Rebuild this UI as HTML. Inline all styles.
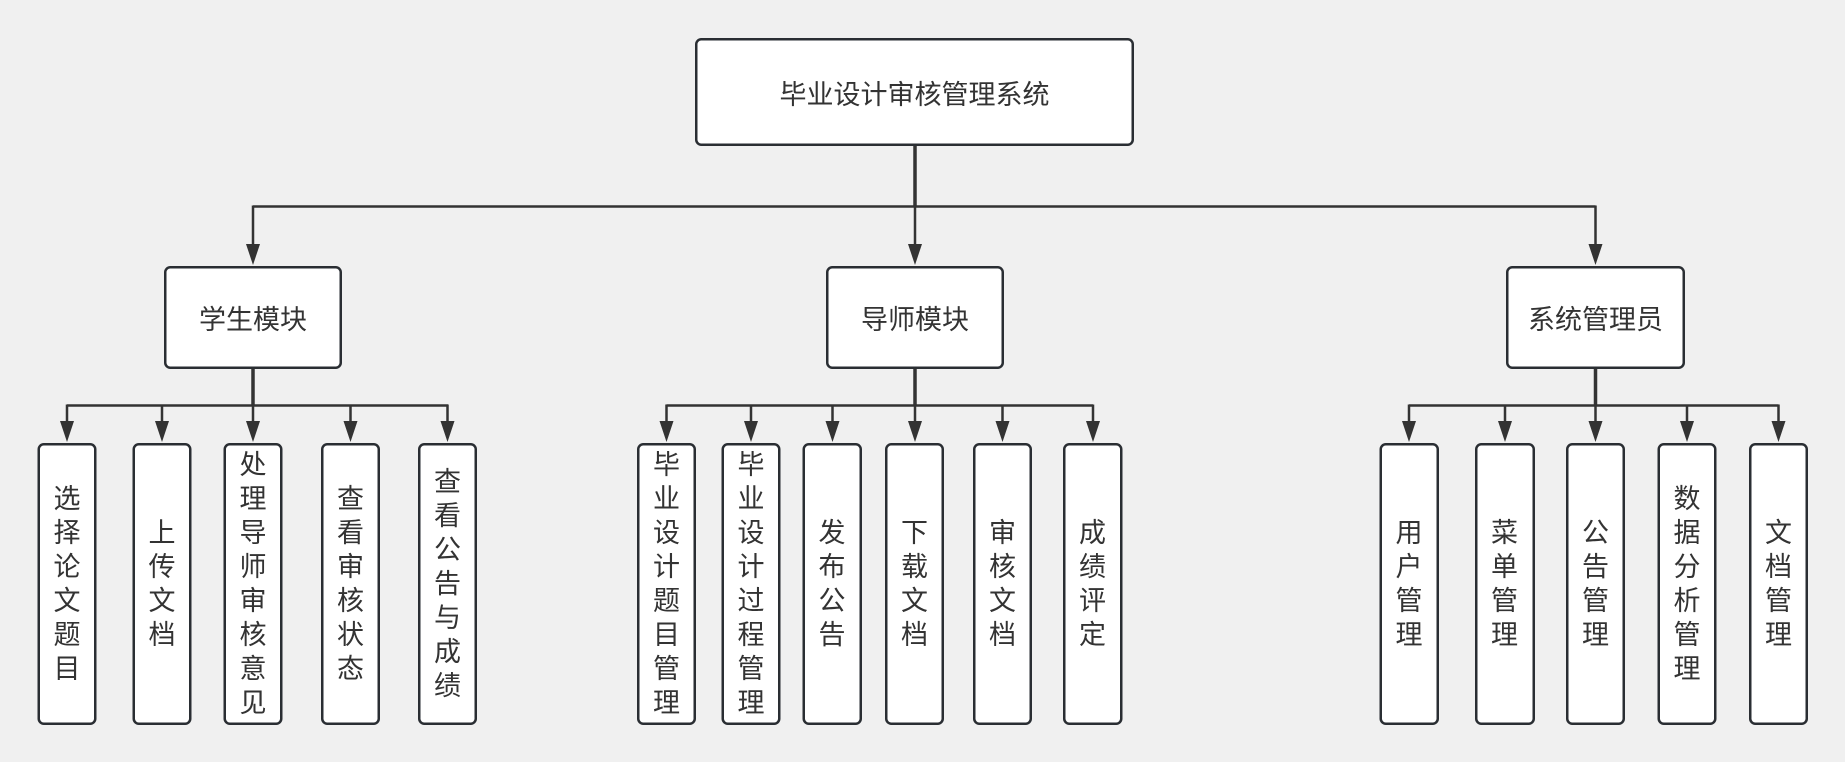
<!DOCTYPE html>
<html><head><meta charset="utf-8">
<style>
html,body{margin:0;padding:0;background:#f0f0f0;}
#c{position:relative;width:1845px;height:762px;overflow:hidden;background:#f0f0f0;}
svg{position:absolute;left:0;top:0;}
.t{position:absolute;display:flex;align-items:center;justify-content:center;text-align:center;color:#333;font-family:"Liberation Sans","Noto Sans CJK SC",sans-serif;font-size:27px;}
.lf{top:443px;height:282px;width:59px;line-height:34px;}
</style></head><body><div id="c">
<svg width="1845" height="762" viewBox="0 0 1845 762">
<g stroke="#333" fill="none" stroke-width="2.5">
<!-- top -->
<line x1="915" y1="146" x2="915" y2="207" stroke-width="3.5"/>
<line x1="915" y1="206" x2="915" y2="245"/>
<line x1="253" y1="206.5" x2="1595.5" y2="206.5"/>
<line x1="253" y1="205.5" x2="253" y2="245"/>
<line x1="1595.5" y1="205.5" x2="1595.5" y2="245"/>
<!-- student -->
<line x1="253" y1="369" x2="253" y2="406" stroke-width="3.5"/>
<line x1="67" y1="405.5" x2="448" y2="405.5"/>
<line x1="67" y1="404.5" x2="67" y2="422"/>
<line x1="162" y1="404.5" x2="162" y2="422"/>
<line x1="253" y1="404.5" x2="253" y2="422"/>
<line x1="350.5" y1="404.5" x2="350.5" y2="422"/>
<line x1="447.5" y1="404.5" x2="447.5" y2="422"/>
<!-- teacher -->
<line x1="915" y1="369" x2="915" y2="406" stroke-width="3.5"/>
<line x1="666.5" y1="405.5" x2="1093" y2="405.5"/>
<line x1="666.5" y1="404.5" x2="666.5" y2="422"/>
<line x1="751" y1="404.5" x2="751" y2="422"/>
<line x1="832.5" y1="404.5" x2="832.5" y2="422"/>
<line x1="915" y1="404.5" x2="915" y2="422"/>
<line x1="1002.5" y1="404.5" x2="1002.5" y2="422"/>
<line x1="1093" y1="404.5" x2="1093" y2="422"/>
<!-- admin -->
<line x1="1595.5" y1="369" x2="1595.5" y2="406" stroke-width="3.5"/>
<line x1="1409" y1="405.5" x2="1778.5" y2="405.5"/>
<line x1="1409" y1="404.5" x2="1409" y2="422"/>
<line x1="1505" y1="404.5" x2="1505" y2="422"/>
<line x1="1595.5" y1="404.5" x2="1595.5" y2="422"/>
<line x1="1687" y1="404.5" x2="1687" y2="422"/>
<line x1="1778.5" y1="404.5" x2="1778.5" y2="422"/>
</g>
<g fill="#333">
<polygon points="246,244 260,244 253,265"/>
<polygon points="908,244 922,244 915,265"/>
<polygon points="1588.5,244 1602.5,244 1595.5,265"/>
<polygon points="60,421 74,421 67,442"/>
<polygon points="155,421 169,421 162,442"/>
<polygon points="246,421 260,421 253,442"/>
<polygon points="343.5,421 357.5,421 350.5,442"/>
<polygon points="440.5,421 454.5,421 447.5,442"/>
<polygon points="659.5,421 673.5,421 666.5,442"/>
<polygon points="744,421 758,421 751,442"/>
<polygon points="825.5,421 839.5,421 832.5,442"/>
<polygon points="908,421 922,421 915,442"/>
<polygon points="995.5,421 1009.5,421 1002.5,442"/>
<polygon points="1086,421 1100,421 1093,442"/>
<polygon points="1402,421 1416,421 1409,442"/>
<polygon points="1498,421 1512,421 1505,442"/>
<polygon points="1588.5,421 1602.5,421 1595.5,442"/>
<polygon points="1680,421 1694,421 1687,442"/>
<polygon points="1771.5,421 1785.5,421 1778.5,442"/>
</g>
<g fill="#fff" stroke="#2a2e33" stroke-width="2.5">
<rect x="696.25" y="39.25" width="436.5" height="105.5" rx="5"/>
<rect x="165.25" y="267.25" width="175.5" height="100.5" rx="5"/>
<rect x="827.25" y="267.25" width="175.5" height="100.5" rx="5"/>
<rect x="1507.25" y="267.25" width="176.5" height="100.5" rx="5"/>
<rect x="38.75" y="444.25" width="56.5" height="279.5" rx="5"/>
<rect x="133.75" y="444.25" width="56.5" height="279.5" rx="5"/>
<rect x="224.75" y="444.25" width="56.5" height="279.5" rx="5"/>
<rect x="322.25" y="444.25" width="56.5" height="279.5" rx="5"/>
<rect x="419.25" y="444.25" width="56.5" height="279.5" rx="5"/>
<rect x="638.25" y="444.25" width="56.5" height="279.5" rx="5"/>
<rect x="722.75" y="444.25" width="56.5" height="279.5" rx="5"/>
<rect x="803.75" y="444.25" width="57" height="279.5" rx="5"/>
<rect x="886.25" y="444.25" width="56.5" height="279.5" rx="5"/>
<rect x="974.25" y="444.25" width="56.5" height="279.5" rx="5"/>
<rect x="1064.25" y="444.25" width="57" height="279.5" rx="5"/>
<rect x="1380.75" y="444.25" width="57" height="279.5" rx="5"/>
<rect x="1476.25" y="444.25" width="57.5" height="279.5" rx="5"/>
<rect x="1567.25" y="444.25" width="56.5" height="279.5" rx="5"/>
<rect x="1658.75" y="444.25" width="56.5" height="279.5" rx="5"/>
<rect x="1750.25" y="444.25" width="56.5" height="279.5" rx="5"/>
</g>
</svg>

<div class="t" style="left:695px;top:38px;width:439px;height:108px;">毕业设计审核管理系统</div>
<div class="t" style="left:164px;top:266px;width:178px;height:103px;">学生模块</div>
<div class="t" style="left:826px;top:266px;width:178px;height:103px;">导师模块</div>
<div class="t" style="left:1506px;top:266px;width:179px;height:103px;">系统管理员</div>

<div class="t lf" style="left:37.5px;">选<br>择<br>论<br>文<br>题<br>目</div>
<div class="t lf" style="left:132.5px;">上<br>传<br>文<br>档</div>
<div class="t lf" style="left:223.5px;">处<br>理<br>导<br>师<br>审<br>核<br>意<br>见</div>
<div class="t lf" style="left:321px;">查<br>看<br>审<br>核<br>状<br>态</div>
<div class="t lf" style="left:418px;">查<br>看<br>公<br>告<br>与<br>成<br>绩</div>

<div class="t lf" style="left:637px;">毕<br>业<br>设<br>计<br>题<br>目<br>管<br>理</div>
<div class="t lf" style="left:721.5px;">毕<br>业<br>设<br>计<br>过<br>程<br>管<br>理</div>
<div class="t lf" style="left:802.5px;">发<br>布<br>公<br>告</div>
<div class="t lf" style="left:885px;">下<br>载<br>文<br>档</div>
<div class="t lf" style="left:973px;">审<br>核<br>文<br>档</div>
<div class="t lf" style="left:1063px;">成<br>绩<br>评<br>定</div>

<div class="t lf" style="left:1379.5px;">用<br>户<br>管<br>理</div>
<div class="t lf" style="left:1475px;">菜<br>单<br>管<br>理</div>
<div class="t lf" style="left:1566px;">公<br>告<br>管<br>理</div>
<div class="t lf" style="left:1657.5px;">数<br>据<br>分<br>析<br>管<br>理</div>
<div class="t lf" style="left:1749px;">文<br>档<br>管<br>理</div>
</div></body></html>
